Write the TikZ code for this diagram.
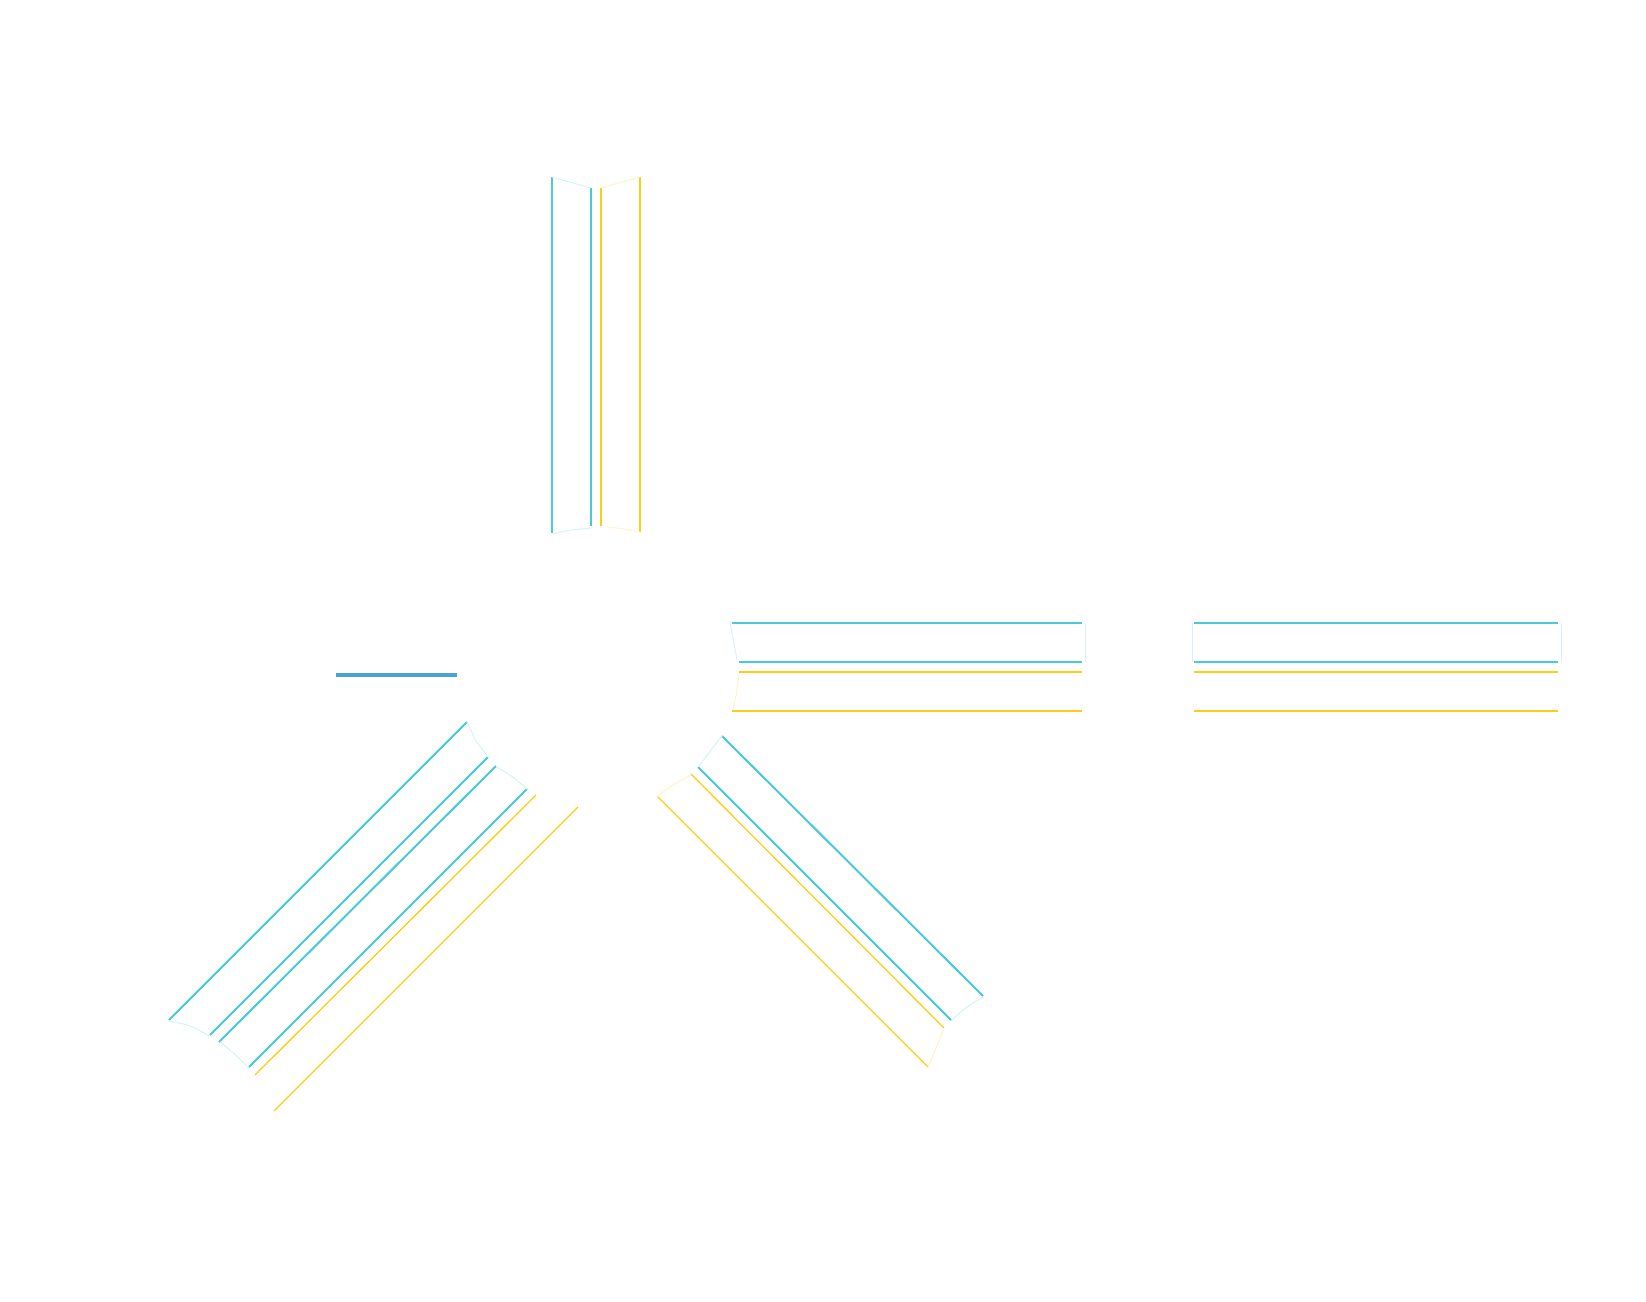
\documentclass[tikz,border=0pt]{standalone}
\definecolor{cy}{RGB}{72,202,216}
\definecolor{yl}{RGB}{255,206,20}
\definecolor{bl}{RGB}{74,163,211}
\tikzset{
  cyl/.style={draw=cy,line width=1pt},
  yll/.style={draw=yl,line width=0.65pt},
  fcy/.style={draw=cy!22,line width=0.5pt},
  fyl/.style={draw=yl!22,line width=0.5pt},
}
\begin{document}
\begin{tikzpicture}[x=0.5pt,y=-0.5pt]
\fill[white] (0,0) rectangle (1646,1302);
\useasboundingbox (0,0) rectangle (1646,1302);
% top vertical strand
\draw[cyl] (552,177) -- (552,533);
\draw[cyl] (591,188) -- (591,526);
\draw[yll] (601,188) -- (601,526);
\draw[yll] (640,177) -- (640,532);
\draw[fcy] (552,177) -- (591,188);
\draw[fyl] (601,188) -- (640,177);
\draw[fcy] (552,534) .. controls (570,530) .. (591,528);
\draw[fyl] (608,527) .. controls (625,529) .. (640,532);
% right horizontal group 1
\draw[cyl] (732,623) -- (1082,623);
\draw[cyl] (739,662) -- (1082,662);
\draw[yll] (739,672) -- (1082,672);
\draw[yll] (732,711) -- (1082,711);
\draw[fcy] (730,622) -- (737,660);
\draw[fyl] (739,674) .. controls (737,692) .. (733,709);
\draw[fcy] (1085,623) -- (1085,662);
% right horizontal group 2
\draw[cyl] (1194,623) -- (1558,623);
\draw[cyl] (1194,662) -- (1558,662);
\draw[yll] (1194,672) -- (1558,672);
\draw[yll] (1194,711) -- (1558,711);
\draw[fcy] (1192,623) -- (1192,662);
\draw[fcy] (1561,623) -- (1561,662);
% blue line
\draw[draw=bl,line width=2pt] (336,675) -- (457,675);
% lower-left diagonal group
\draw[cyl] (467,722) -- (169,1020);
\draw[cyl] (488,757) -- (210,1035);
\draw[cyl] (496,766) -- (219,1042);
\draw[cyl] (527,789) -- (249,1067);
\draw[yll] (536,795) -- (255,1075);
\draw[yll] (578,807) -- (274,1111);
\draw[fcy] (467,722) -- (476,741) -- (488,757);
\draw[fcy] (497,767) .. controls (512,776) .. (527,789);
\draw[fcy] (169,1021) .. controls (190,1025) .. (209,1036);
\draw[fcy] (220,1042) .. controls (236,1055) .. (249,1068);
% lower-right diagonal group
\draw[cyl] (722,736) -- (983,996);
\draw[cyl] (698,767) -- (951,1020);
\draw[yll] (691,774) -- (944,1028);
\draw[yll] (657,796) -- (928,1067);
\draw[fcy] (722,736) -- (698,767);
\draw[fyl] (691,775) .. controls (672,785) .. (657,797);
\draw[fcy] (983,997) .. controls (966,1007) .. (951,1021);
\draw[fyl] (944,1029) .. controls (936,1048) .. (928,1067);
\end{tikzpicture}
\end{document}
